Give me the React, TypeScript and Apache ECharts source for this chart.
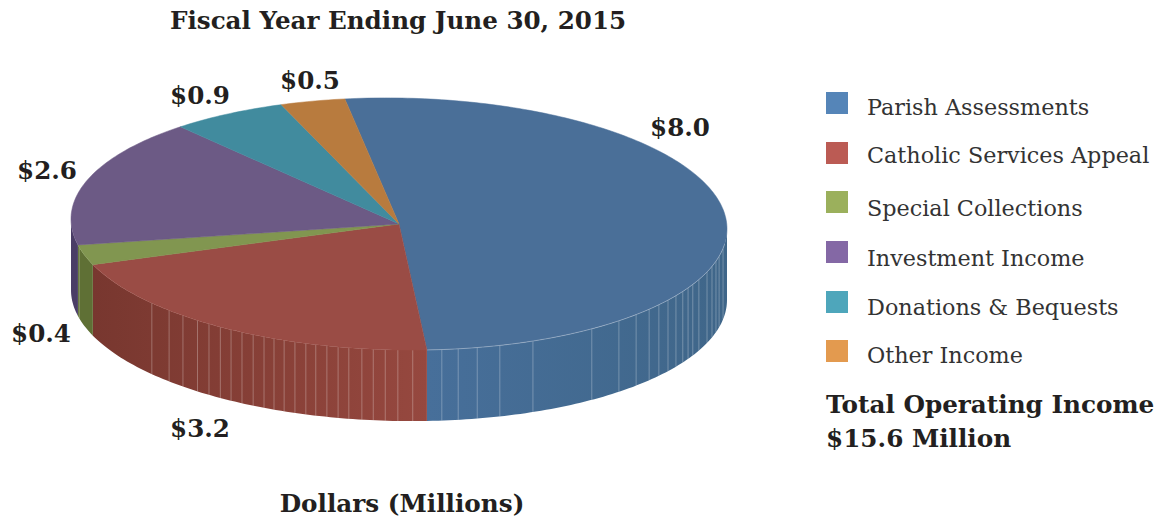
import React, { useEffect, useRef } from "react";
import * as echarts from "echarts";

const categories = ["Parish Assessments", "Catholic Services Appeal", "Special Collections", "Investment Income", "Donations & Bequests", "Other Income"];
const values = [8.0, 3.2, 0.4, 2.6, 0.9, 0.5];
const topColors = ["#4a6f98", "#9a4c45", "#819650", "#6c5a85", "#418b9e", "#b87b3e"];
const sideFrom = ["#476f9a", "#78372f", "#5f7035", "#4a3d66", "#2f6a7a", "#8a5a2c"];
const sideTo = ["#3f6689", "#96483f", "#5f7035", "#4a3d66", "#2f6a7a", "#8a5a2c"];
const legendColors = ["#5585b8", "#bb5b54", "#9bb05c", "#8468a5", "#4ea6bb", "#e39a4f"];
const legendTextY = [107, 155, 208, 258, 307, 355];
const legendBoxY = [92, 142, 191, 241, 291, 340];
const labelPos = [[680, 127], [200, 428], [41, 333], [47, 170], [200, 95], [310, 80]];
const seamAngles = [98.9, 102.6, 104.9, 107.4, 110.1, 113.9, 116.4, 118.2, 120.1, 122.4, 124.9, 127.6, 130.3, 133.7, 137.9, 144, 155.9, 162.1, 166.2, 169.6, 172.5, 177.6, 180.2, 182.4, 184.5, 186.5, 188.8, 190.7, 192.7, 194.7, 196.5, 198.5, 200.5, 202.4, 204.3, 206.4, 208.6, 210.8, 213, 215.4, 217.9, 221.2, 224.5, 228.9, 257.1];

const CX = 399, CY = 224, RX = 328, RY = 126, DEPTH = 71, TILT = 0.015, START = -9.5;
const SERIF = "'DejaVu Serif', serif";
const total = values.reduce((a, b) => a + b, 0);

function pt(deg: number, dy = 0): number[] {
  const t = (deg * Math.PI) / 180;
  const x = CX + RX * Math.sin(t);
  return [x, CY - RY * Math.cos(t) + (x - CX) * TILT + dy];
}
function arc(a: number, b: number, dy = 0): number[][] {
  const out: number[][] = [];
  const n = Math.max(2, Math.ceil(Math.abs(b - a)));
  for (let i = 0; i <= n; i++) out.push(pt(a + ((b - a) * i) / n, dy));
  return out;
}
function range(i: number): [number, number] {
  let s = 0;
  for (let k = 0; k < i; k++) s += values[k];
  return [START + (s / total) * 360, START + ((s + values[i]) / total) * 360];
}

export default function App() {
  const ref = useRef<HTMLDivElement>(null);
  useEffect(() => {
    document.body.style.margin = "0";
    const chart = echarts.init(ref.current!, null, { renderer: "svg" });
    const seriesData = values.map((v) => [v]);
    chart.setOption({
      animation: false,
      backgroundColor: "#fff",
      title: {
        text: "Fiscal Year Ending June 30, 2015",
        left: 165,
        top: 3,
        textStyle: { fontFamily: SERIF, fontWeight: "bold", fontSize: 24.6, color: "#231f20" },
      },
      series: [
        {
          type: "custom",
          coordinateSystem: "none",
          silent: true,
          z: 1,
          data: seriesData,
          renderItem: (p: any) => {
            const [s, e] = range(p.dataIndex);
            // Only the front half of the rim is visible.
            const a = Math.max(s, 90), b = Math.min(e, 270);
            if (b <= a) return { type: "group", children: [] };
            return {
              type: "polygon",
              shape: { points: [...arc(a, b), ...arc(b, a, DEPTH)] },
              style: {
                fill: new echarts.graphic.LinearGradient(0, 0, 1, 0, [
                  { offset: 0, color: sideFrom[p.dataIndex] },
                  { offset: 1, color: sideTo[p.dataIndex] },
                ]),
              },
            };
          },
        },
        {
          type: "custom",
          coordinateSystem: "none",
          silent: true,
          z: 2,
          data: seamAngles.map((d) => [d]),
          renderItem: (_p: any, api: any) => {
            const d = api.value(0);
            const u = pt(d), l = pt(d, DEPTH);
            return {
              type: "line",
              shape: { x1: u[0], y1: u[1], x2: l[0], y2: l[1] },
              style: { stroke: "rgba(255,255,255,0.28)", lineWidth: 1 },
            };
          },
        },
        {
          type: "custom",
          coordinateSystem: "none",
          silent: true,
          z: 3,
          data: seriesData,
          renderItem: (p: any) => {
            const [a, b] = range(p.dataIndex);
            return {
              type: "polygon",
              shape: { points: [[CX, CY], ...arc(a, b)] },
              style: { fill: topColors[p.dataIndex], stroke: topColors[p.dataIndex], lineWidth: 0.5 },
            };
          },
        },
        {
          type: "custom",
          coordinateSystem: "none",
          silent: true,
          z: 4,
          data: [[0]],
          renderItem: () => ({
            type: "polyline",
            shape: { points: arc(range(0)[1], 97) },
            style: { stroke: "rgba(255,255,255,0.3)", fill: "none", lineWidth: 1 },
          }),
        },
      ],
      graphic: [
        ...values.map((v, i) => ({
          type: "text",
          x: labelPos[i][0],
          y: labelPos[i][1],
          style: {
            text: "$" + v.toFixed(1),
            fontFamily: SERIF,
            fontWeight: "bold",
            fontSize: 24.6,
            fill: "#231f20",
            align: "center",
            verticalAlign: "middle",
          },
        })),
        ...categories.flatMap((c, i) => [
          { type: "rect", shape: { x: 826, y: legendBoxY[i], width: 22, height: 22 }, style: { fill: legendColors[i] } },
          {
            type: "text",
            x: 867,
            y: legendTextY[i],
            style: { text: c, fontFamily: SERIF, fontSize: 22.3, fill: "#333", verticalAlign: "middle" },
          },
        ]),
        {
          type: "text", x: 826, y: 404,
          style: { text: "Total Operating Income", fontFamily: SERIF, fontWeight: "bold", fontSize: 24.7, fill: "#231f20", verticalAlign: "middle" },
        },
        {
          type: "text", x: 826, y: 438,
          style: { text: "$15.6 Million", fontFamily: SERIF, fontWeight: "bold", fontSize: 24.7, fill: "#231f20", verticalAlign: "middle" },
        },
        {
          type: "text", x: 402, y: 503,
          style: { text: "Dollars (Millions)", fontFamily: SERIF, fontWeight: "bold", fontSize: 24.7, fill: "#231f20", align: "center", verticalAlign: "middle" },
        },
      ],
    });
    return () => chart.dispose();
  }, []);
  return <div ref={ref} style={{ width: 1157, height: 516 }} />;
}
